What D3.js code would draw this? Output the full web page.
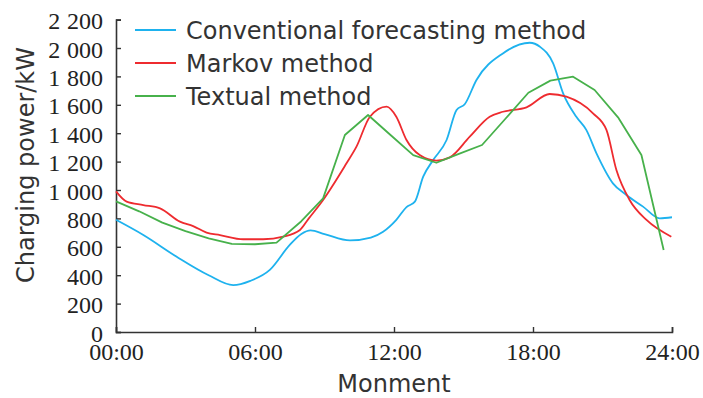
<!DOCTYPE html>
<html>
<head>
<meta charset="utf-8">
<script src="https://cdn.jsdelivr.net/npm/d3@7"></script>
<style>
  body { margin: 0; background: #fff; }
  svg text.serif { font-family: 'Liberation Serif'; }
</style>
</head>
<body>
<svg id="chart" width="703" height="398"></svg>
<script>
// hours of the day and charging power (kW)
var conventionalHours = [0, 1.18, 2.62, 4, 5.06, 5.8, 6.64, 7.5, 8.0, 8.4, 9.0, 10.1, 11.0, 11.53, 12.1, 12.54, 12.9, 13.26, 13.69, 14.27, 14.7, 15.06, 15.56, 16.7, 17.86, 18.3, 18.87, 19.3, 19.87, 20.3, 20.74, 21.45, 22.03, 22.75, 23.47, 24];
var conventionalPower = [790, 683, 530, 400, 330, 360, 437, 613, 690, 715, 690, 645, 665, 706, 790, 880, 918, 1094, 1211, 1352, 1563, 1606, 1775, 1962, 2037, 2009, 1892, 1681, 1516, 1423, 1258, 1047, 965, 883, 800, 808];

var markovHours = [0, 0.46, 1.18, 1.9, 2.76, 3.33, 3.91, 4.49, 5.49, 6.35, 7.22, 7.94, 8.3, 8.94, 9.95, 10.38, 10.96, 11.68, 12.1, 12.54, 13.11, 13.83, 14.41, 15.27, 16.13, 16.7, 17.72, 18.72, 19.44, 20.59, 21.17, 21.6, 22.17, 22.9, 23.97];
var markovPower = [990, 918, 894, 871, 777, 746, 700, 683, 653, 653, 671, 718, 795, 930, 1188, 1305, 1516, 1587, 1516, 1352, 1246, 1207, 1230, 1376, 1516, 1551, 1582, 1676, 1657, 1540, 1423, 1141, 930, 789, 671];

var textualHours = [0, 1, 2, 3, 4, 5, 6, 6.93, 8, 8.94, 9.88, 10.88, 11.85, 12.83, 13.83, 14.8, 15.8, 16.8, 17.8, 18.75, 19.73, 20.66, 21.67, 22.68, 23.64];
var textualPower = [920, 850, 770, 710, 660, 620, 618, 629, 780, 941, 1387, 1528, 1387, 1246, 1192, 1255, 1317, 1500, 1685, 1770, 1798, 1704, 1512, 1246, 577];

var hourTicks = [0, 6, 12, 18, 24];
var powerTicks = [0, 200, 400, 600, 800, 1000, 1200, 1400, 1600, 1800, 2000, 2200];

var seriesNames = ['Conventional forecasting method', 'Markov method', 'Textual method'];
var seriesColors = ['#1eb2ee', '#ee2b2f', '#47b14b'];

var sansFont = 'DejaVu Sans, sans-serif';

var margin = {left: 116, right: 31, top: 19.6, bottom: 66};
var width = 703, height = 398;

var svg = d3.select('#chart');

var x = d3.scaleLinear().domain([0, 24]).range([margin.left, width - margin.right]);
var y = d3.scaleLinear().domain([0, 2200]).range([height - margin.bottom, margin.top]);

function hourLabel(h) {
    return (h < 10 ? '0' : '') + h + ':00';
}

function powerLabel(v) {
    return d3.format(',')(v).replace(',', '\u2009\u200a');
}

var xAxis = d3.axisBottom(x)
    .tickValues(hourTicks)
    .tickFormat(hourLabel)
    .tickSizeInner(-5)
    .tickSizeOuter(-5)
    .tickPadding(10);

var yAxis = d3.axisLeft(y)
    .tickValues(powerTicks)
    .tickFormat(powerLabel)
    .tickSizeInner(-5)
    .tickSizeOuter(-5)
    .tickPadding(13);

function styleAxis(g) {
    g.attr('font-family', null).attr('font-size', 24);
    g.select('.domain').attr('stroke', '#333').attr('stroke-width', 1.6);
    g.selectAll('.tick line').attr('stroke', '#333').attr('stroke-width', 1.4);
    g.selectAll('.tick text')
        .attr('class', 'serif')
        .attr('fill', '#222');
}

svg.append('g')
    .attr('transform', 'translate(0,' + (height - margin.bottom) + ')')
    .call(xAxis)
    .call(styleAxis)
    .selectAll('.tick text')
        .attr('dy', '0.74em');

svg.append('g')
    .attr('transform', 'translate(' + margin.left + ',0)')
    .call(yAxis)
    .call(styleAxis)
    .selectAll('.tick text')
        .attr('dy', '0.38em');

var smoothLine = d3.line()
    .x(function(d) { return x(d[0]); })
    .y(function(d) { return y(d[1]); })
    .curve(d3.curveMonotoneX);

var straightLine = d3.line()
    .x(function(d) { return x(d[0]); })
    .y(function(d) { return y(d[1]); });

var series = [
    {hours: conventionalHours, power: conventionalPower, line: smoothLine},
    {hours: markovHours, power: markovPower, line: smoothLine},
    {hours: textualHours, power: textualPower, line: straightLine}
];

series.forEach(function(s, i) {
    var points = d3.zip(s.hours, s.power);
    svg.append('path')
        .datum(points)
        .attr('fill', 'none')
        .attr('stroke', seriesColors[i])
        .attr('stroke-width', 1.8)
        .attr('stroke-linejoin', 'round')
        .attr('d', s.line);
});

// legend
var legend = svg.append('g').attr('transform', 'translate(135,30)');
seriesNames.forEach(function(name, i) {
    var row = legend.append('g').attr('transform', 'translate(0,' + (i * 33) + ')');
    row.append('line')
        .attr('x1', 0)
        .attr('x2', 41)
        .attr('stroke', seriesColors[i])
        .attr('stroke-width', 1.8);
    row.append('text')
        .attr('x', 51)
        .attr('y', 9)
        .style('font-family', sansFont)
        .style('font-size', '24px')
        .attr('fill', '#333')
        .text(name);
});

// axis titles
svg.append('text')
    .attr('x', x(12))
    .attr('y', 392)
    .attr('text-anchor', 'middle')
    .style('font-family', sansFont)
    .style('font-size', '24px')
    .attr('fill', '#333')
    .text('Monment');

svg.append('text')
    .attr('transform', 'translate(34,165) rotate(-90)')
    .attr('text-anchor', 'middle')
    .style('font-family', sansFont)
    .style('font-size', '24px')
    .attr('fill', '#333')
    .text('Charging power/kW');
</script>
</body>
</html>
